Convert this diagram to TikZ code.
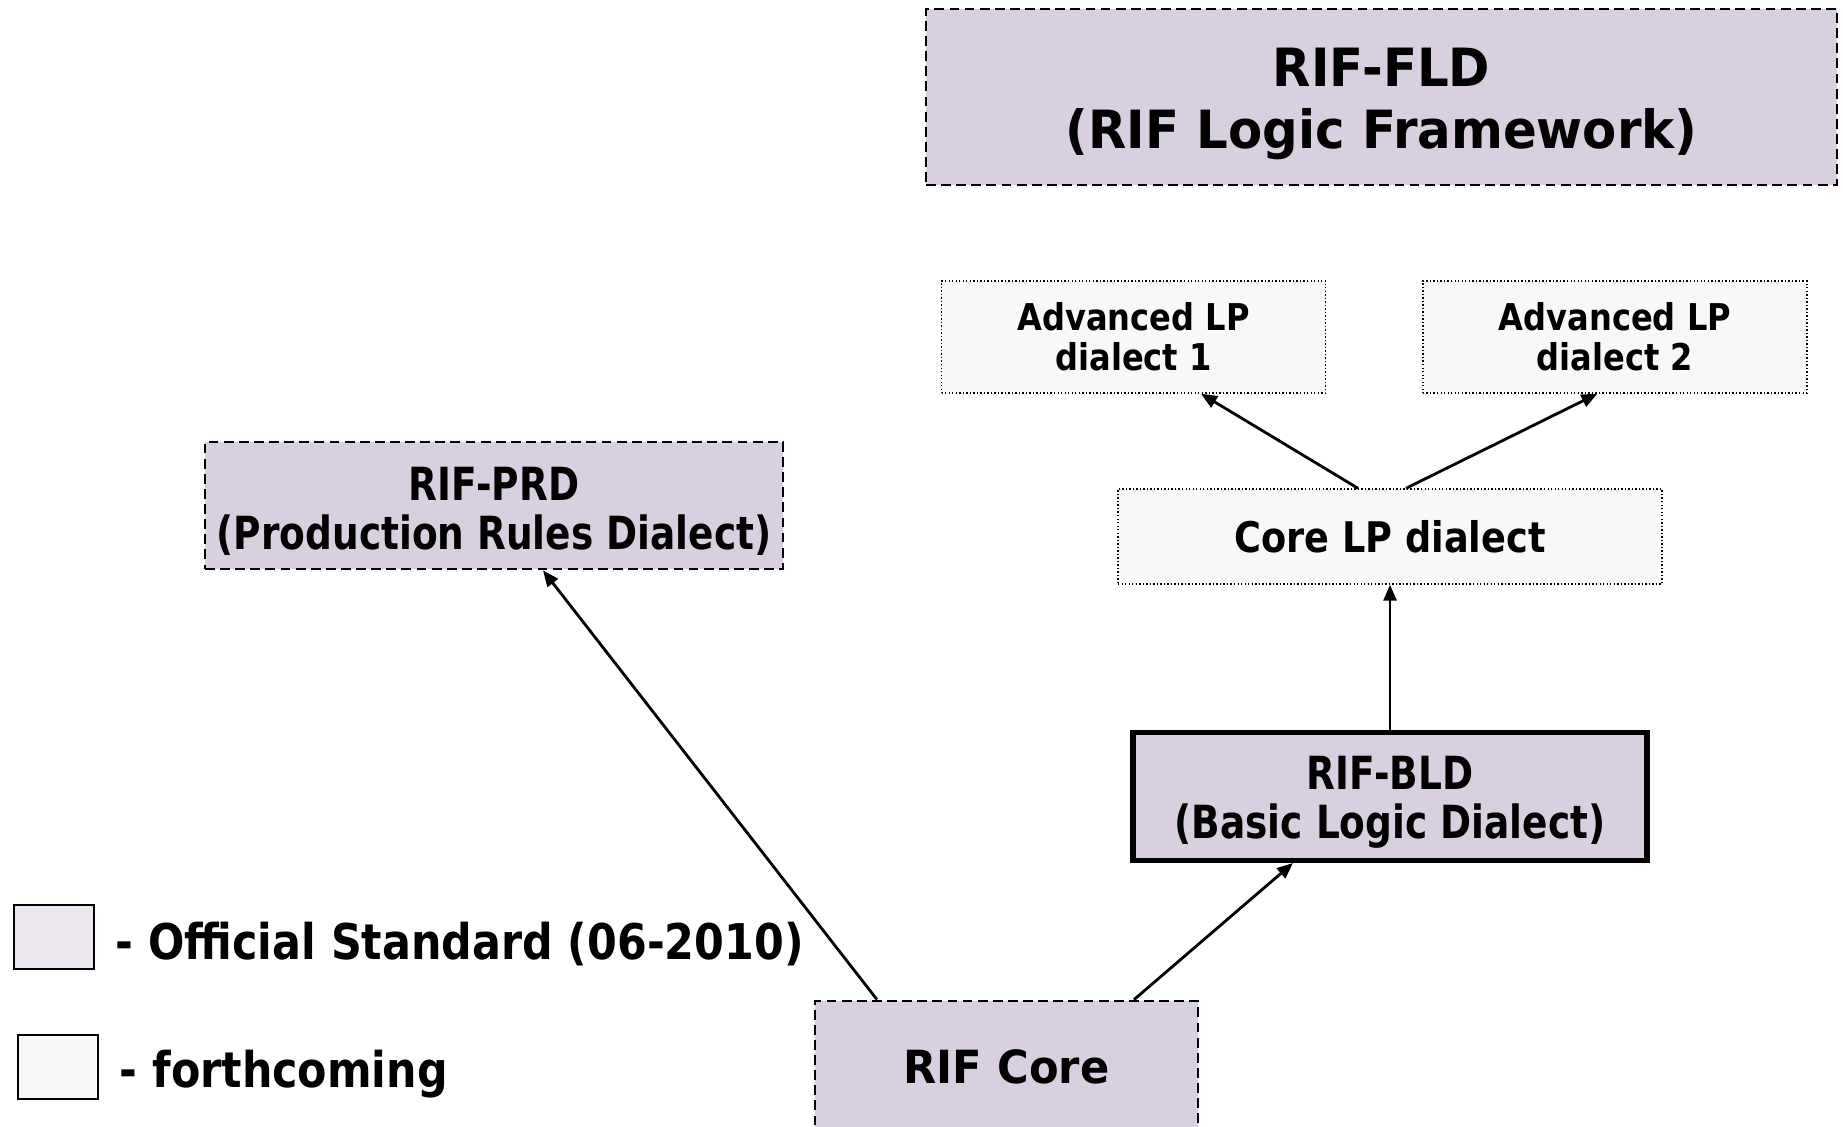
\documentclass[tikz,border=0pt]{standalone}
\usepackage{fontspec}
\setmainfont{DejaVu Sans}
\newfontfamily\narrowfont[FakeStretch=0.82]{DejaVu Sans}
\newfontfamily\midfont[FakeStretch=0.87]{DejaVu Sans}
\newfontfamily\widefont[FakeStretch=0.945]{DejaVu Sans}
\usetikzlibrary{positioning, arrows.meta}
\tikzset{>={Triangle[width=1.3mm,length=1.6mm]}}
\definecolor{stdfill}{RGB}{216,208,224}
\definecolor{legfill}{RGB}{236,230,239}
\definecolor{newfill}{RGB}{248,248,248}
\def \advwidth {3.84cm}
\def \advheight {1.12cm}

\begin{document}
\begin{tikzpicture}[
  official/.style = {draw, fill = stdfill, line width = 0.8pt, dash pattern = on 2.8pt off 1.5pt, align = center},
  forthcoming/.style = {draw, fill = newfill, line width = 0.4pt, dash pattern = on 0.4pt off 0.6pt, align = center},
  legendsq/.style = {draw, line width = 0.6pt, minimum width = 0.8cm, minimum height = 0.64cm, inner sep = 0pt},
  legendtext/.style = {font = \fontsize{14}{16}\selectfont\midfont\bfseries, inner sep = 0pt, yshift = -0.07cm}
]
\useasboundingbox (0, 0) rectangle (18.43, -11.26);
\fill[white] (0, 0) rectangle (18.43, -11.26);

\node (fld) [official, minimum width = 9.11cm, minimum height = 1.76cm, font = \fontsize{15}{17.5}\selectfont\widefont\bfseries] at (13.815, -0.97) {\rule{0pt}{15pt}RIF-FLD\\(RIF Logic Framework)};

\node (adv1) [forthcoming, minimum width = \advwidth, minimum height = \advheight, font = \fontsize{10.5}{11.5}\selectfont\midfont\bfseries] at (11.335, -3.37) {Advanced LP\\dialect 1};

\node (adv2) [forthcoming, minimum width = \advwidth, minimum height = \advheight, font = \fontsize{10.5}{11.5}\selectfont\midfont\bfseries, right = 0.96cm of adv1] {Advanced LP\\dialect 2};

\node (corelp) [forthcoming, minimum width = 5.44cm, minimum height = 0.95cm, font = \fontsize{12}{14}\selectfont\midfont\bfseries] at (13.90, -5.365) {Core LP dialect};

\node (bld) [official, solid, line width = 1.5pt, minimum width = 5.14cm, minimum height = 1.28cm, font = \fontsize{13}{14}\selectfont\narrowfont\bfseries, below = 1.45cm of corelp] {\rule{0pt}{12.8pt}RIF-BLD\\(Basic Logic Dialect)};

\draw[->, line width = 0.8pt] (bld) -- (corelp);
\draw[->, line width = 0.8pt] ([xshift = -3.2mm] corelp.north) -- ([xshift = 6.75mm] adv1.south);
\draw[->, line width = 0.8pt] ([xshift = 1.6mm] corelp.north) -- ([xshift = -1.75mm] adv2.south);

\node (prd) [official, minimum width = 5.76cm, minimum height = 1.27cm, font = \fontsize{13}{14}\selectfont\narrowfont\bfseries] at (4.94, -5.055) {\rule{0pt}{12.8pt}RIF-PRD\\(Production Rules Dialect)};

\node (core) [official, minimum width = 3.83cm, minimum height = 1.32cm, font = \fontsize{13}{14}\selectfont\widefont\bfseries] at (10.065, -10.67) {RIF Core};

\draw[->, line width = 0.8pt] ([xshift = 12.75mm] core.north) -- ([xshift = -9.7mm] bld.south);
\draw[->, line width = 0.8pt] ([xshift = -12.95mm] core.north) -- ([xshift = 4.9mm] prd.south);

% legend
\node (leg1) [legendsq, fill = legfill] at (0.54, -9.37) {};
\node (leg2) [legendsq, fill = newfill, below = 0.64cm of leg1, xshift = 0.4mm] {};
\node (leg1txt) [legendtext, right = 0.2cm of leg1] {- Official Standard (06-2010)};
\node (leg2txt) [legendtext, right = 0.2cm of leg2] {- forthcoming};

\end{tikzpicture}
\end{document}
